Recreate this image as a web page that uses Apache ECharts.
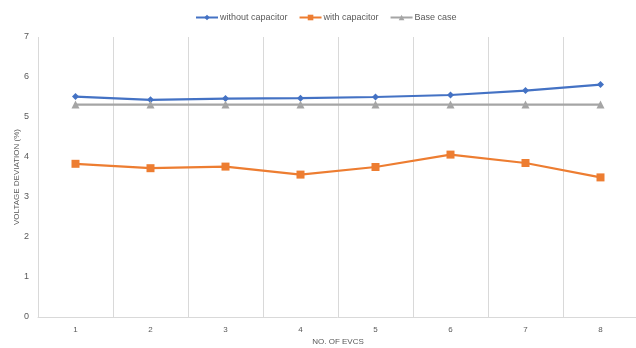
<!DOCTYPE html>
<html>
<head>
<meta charset="utf-8">
<script src="https://cdn.jsdelivr.net/npm/echarts@6/dist/echarts.min.js"></script>
<style>
  html, body { margin: 0; padding: 0; background: #fff; }
  #chart { width: 636px; height: 348px; }
</style>
</head>
<body>
<div id="chart"></div>
<script>
// Number of EV charging stations on the x axis
const categories = ['1', '2', '3', '4', '5', '6', '7', '8'];

// Voltage deviation (%) for each configuration
const withoutCapacitor = [5.51, 5.43, 5.46, 5.47, 5.50, 5.55, 5.66, 5.81];
const withCapacitor = [3.83, 3.72, 3.76, 3.56, 3.75, 4.06, 3.85, 3.49];
const baseCase = [5.31, 5.31, 5.31, 5.31, 5.31, 5.31, 5.31, 5.31];

const seriesNames = ['without capacitor', 'with capacitor', 'Base case'];
const yTicks = [0, 1, 2, 3, 4, 5, 6, 7];

const textColor = '#595959';
const fontFamily = 'Liberation Sans, Arial, sans-serif';

const chart = echarts.init(document.getElementById('chart'), null, { renderer: 'canvas' });

function lineSeries(name, data, color, symbol, size) {
  return {
    name: name,
    type: 'line',
    data: data,
    symbol: symbol,
    symbolSize: size,
    showAllSymbol: true,
    lineStyle: { color: color, width: 2.25 },
    itemStyle: { color: color },
    emphasis: { disabled: true },
    animation: false
  };
}

chart.setOption({
  animation: false,
  textStyle: { fontFamily: fontFamily },
  legend: {
    top: 8,
    left: 190,
    itemWidth: 22,
    itemHeight: 7,
    itemGap: 11,
    textStyle: { color: textColor, fontSize: 9, fontFamily: fontFamily, padding: [0, 0, 0, -3] },
    data: seriesNames
  },
  grid: {
    left: 38, right: -2, top: 37, bottom: 31,
    containLabel: false,
    outerBoundsMode: 'none'
  },
  xAxis: {
    type: 'category',
    data: categories,
    boundaryGap: true,
    name: 'NO. OF EVCS',
    nameLocation: 'middle',
    nameGap: 21,
    nameMoveOverlap: false,
    nameTextStyle: { color: textColor, fontSize: 8, fontFamily: fontFamily },
    axisLine: { show: true, lineStyle: { color: '#d9d9d9', width: 1 } },
    axisTick: { show: false },
    axisLabel: { color: textColor, fontSize: 8, margin: 9, fontFamily: fontFamily },
    splitLine: { show: true, lineStyle: { color: '#d9d9d9', width: 1 } }
  },
  yAxis: {
    type: 'value',
    min: yTicks[0],
    max: yTicks[yTicks.length - 1],
    interval: 1,
    name: 'VOLTAGE DEVIATION (%)',
    nameLocation: 'middle',
    nameGap: 17,
    nameMoveOverlap: false,
    nameTextStyle: { color: textColor, fontSize: 8, fontFamily: fontFamily },
    axisLine: { show: false },
    axisTick: { show: false },
    axisLabel: { color: textColor, fontSize: 9, margin: 9, fontFamily: fontFamily },
    splitLine: { show: false }
  },
  series: [
    lineSeries(seriesNames[0], withoutCapacitor, '#4472C4', 'diamond', 7),
    lineSeries(seriesNames[1], withCapacitor, '#ED7D31', 'rect', 8),
    lineSeries(seriesNames[2], baseCase, '#A5A5A5', 'triangle', 8)
  ]
});
</script>
</body>
</html>
